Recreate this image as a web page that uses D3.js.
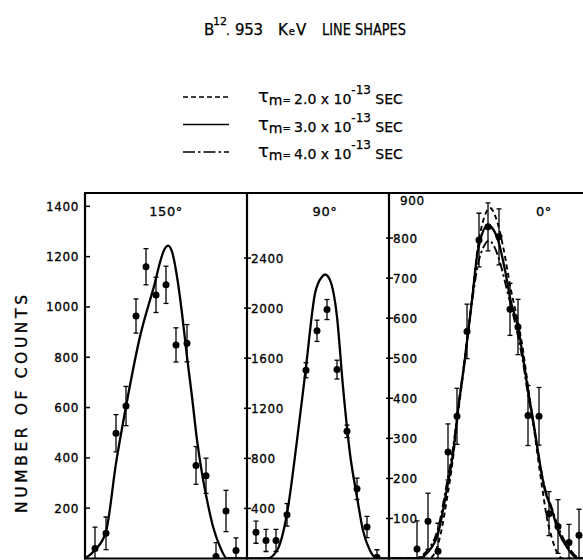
<!DOCTYPE html>
<html>
<head>
<meta charset="utf-8">
<script src="https://cdn.jsdelivr.net/npm/d3@7"></script>
<style>
  html, body { margin: 0; padding: 0; background: #fff; }
  svg { display: block; }
  text { font-family: "DejaVu Sans", "Liberation Sans", sans-serif; fill: #000; }
</style>
</head>
<body>
<svg id="chart" width="583" height="560"></svg>
<script>
// tick labels
const ticks150 = [200, 400, 600, 800, 1000, 1200, 1400];
const ticks90 = [400, 800, 1200, 1600, 2000, 2400];
const ticks0 = [100, 200, 300, 400, 500, 600, 700, 800, 900];

// 150 deg: measured points (channel, counts, error)
const ch150 = [1.0, 2.1, 3.1, 4.1, 5.1, 6.1, 7.1, 8.1, 9.1, 10.2, 11.1, 12.1, 13.1, 14.1, 15.1];
const counts150 = [40, 100, 498, 606, 964, 1160, 1048, 1088, 849, 856, 370, 329, 8, 189, 32];
const err150 = [85, 65, 74, 78, 68, 72, 70, 74, 68, 74, 75, 70, 55, 82, 50];
// 150 deg: fitted line shape
const curveCh150 = [0, 1.0, 2.1, 3.1, 4.1, 5.5, 6.8, 8.0, 8.3, 8.7, 9.2, 9.7, 10.2, 10.7, 11.2, 11.7, 12.2, 12.8, 13.5, 14.2, 16.3];
const curve150 = [0, 34, 107, 378, 604, 882, 1068, 1233, 1244, 1220, 1121, 975, 802, 643, 471, 339, 233, 127, 47, 0, 0];

// 90 deg
const ch90 = [0.9, 1.9, 2.9, 4.0, 5.9, 7.0, 8.0, 9.0, 10.0, 11.0, 12.0, 13.0];
const counts90 = [210, 144, 144, 349, 1504, 1819, 1989, 1509, 1016, 557, 251, 10];
const err90 = [88, 88, 88, 90, 60, 85, 80, 75, 50, 85, 85, 60];
const curveCh90 = [0, 2.0, 3.0, 4.0, 5.0, 5.9, 6.8, 7.5, 7.8, 8.3, 9.0, 9.6, 10.3, 11.0, 11.6, 12.3, 13.0, 14.2];
const curve90 = [0, 0, 64, 357, 944, 1531, 2117, 2251, 2269, 2224, 1931, 1371, 837, 491, 224, 64, 0, 0];

// 0 deg
const ch0 = [2.8, 3.9, 4.9, 5.9, 6.8, 7.8, 9.0, 9.9, 11.0, 12.1, 12.9, 13.9, 15.0, 16.0, 16.9, 18.0, 19.0];
const counts0 = [24, 93, 18, 266, 355, 567, 795, 828, 803, 622, 578, 357, 355, 112, 80, 40, 58];
const err0 = [70, 70, 70, 70, 70, 68, 67, 60, 70, 65, 69, 75, 72, 55, 67, 45, 65];
// 0 deg: three lifetimes
const curveCh0Short = [0, 4.0, 4.6, 5.2, 5.8, 6.4, 6.9, 7.5, 8.3, 8.9, 9.5, 10.1, 10.7, 11.4, 12.2, 12.9, 13.4, 13.9, 14.3, 15.3, 15.8, 16.3, 16.8, 17.4, 20.6];
const curve0Short = [0, 0, 15, 65, 150, 250, 360, 480, 650, 780, 850, 875, 850, 780, 670, 590, 520, 430, 360, 180, 100, 50, 15, 0, 0];
const curveCh0Mid = [0, 2.9, 3.9, 4.9, 5.8, 6.4, 6.9, 7.5, 8.3, 8.9, 9.9, 10.9, 11.6, 12.2, 12.9, 13.4, 13.9, 14.3, 15.6, 16.3, 16.9, 17.9, 18.9, 20.6];
const curve0Mid = [0, 0, 16, 62, 175, 262, 370, 480, 645, 770, 832, 795, 720, 640, 578, 503, 420, 362, 170, 120, 70, 24, 0, 0];
const curveCh0Long = [0, 2.5, 3.9, 4.9, 5.8, 6.4, 6.9, 7.5, 8.3, 8.9, 9.5, 10.0, 10.6, 11.2, 11.8, 12.5, 13.4, 13.9, 14.3, 15.6, 16.3, 16.9, 17.9, 19.2, 20.6];
const curve0Long = [0, 0, 22, 75, 190, 275, 375, 485, 640, 735, 780, 793, 775, 730, 670, 600, 490, 410, 355, 175, 125, 80, 30, 0, 0];

const legendTau = ['2.0', '3.0', '4.0'];
const legendStyles = ['dash', 'solid', 'dashdot'];

const svg = d3.select('#chart');
const baseY = 558.5, topY = 193;
const dashes = { solid: null, dash: '5,3.5', dashdot: '9,3,2.5,3' };
const legendDashes = { solid: null, dash: '5,3', dashdot: '12,3,2.5,3' };

const zip = (xs, ys) => xs.map((x, i) => [x, ys[i]]);

const panels = [
  { id: 'p150', title: '150°', titleX: 166, left: 85, right: 247, max: 1453, ticks: ticks150, side: 'out',
    pts: ch150.map((c, i) => ({ c, v: counts150[i], e: err150[i] })),
    curves: [{ d: zip(curveCh150, curve150), style: 'solid' }] },
  { id: 'p90', title: '90°', titleX: 325, left: 247, right: 389, max: 2920, ticks: ticks90, side: 'in',
    pts: ch90.map((c, i) => ({ c, v: counts90[i], e: err90[i] })),
    curves: [{ d: zip(curveCh90, curve90), style: 'solid' }] },
  { id: 'p0', title: '0°', titleX: 544, left: 389, right: 595, max: 912.5, ticks: ticks0, side: 'in',
    pts: ch0.map((c, i) => ({ c, v: counts0[i], e: err0[i] })),
    curves: [
      { d: zip(curveCh0Short, curve0Short), style: 'dash' },
      { d: zip(curveCh0Long, curve0Long), style: 'dashdot' },
      { d: zip(curveCh0Mid, curve0Mid), style: 'solid' }
    ] }
];

const defs = svg.append('defs');

panels.forEach(p => {
  const x = d3.scaleLinear().domain([0, (p.right - p.left) / 10]).range([p.left, p.right]);
  const y = d3.scaleLinear().domain([0, p.max]).range([baseY, topY]);

  defs.append('clipPath').attr('id', 'clip-' + p.id)
    .append('rect').attr('x', p.left).attr('y', topY).attr('width', p.right - p.left).attr('height', baseY - topY);

  const g = svg.append('g');
  const inner = g.append('g').attr('clip-path', `url(#clip-${p.id})`);

  const line = d3.line().x(d => x(d[0])).y(d => y(d[1])).curve(d3.curveMonotoneX);
  p.curves.forEach(cv => {
    inner.append('path')
      .attr('d', line(cv.d))
      .attr('fill', 'none')
      .attr('stroke', '#000')
      .attr('stroke-width', cv.style === 'solid' ? 2.3 : 1.9)
      .attr('stroke-dasharray', dashes[cv.style]);
  });

  // error bars
  const eb = inner.append('g').attr('stroke', '#000').attr('stroke-width', 1.3);
  p.pts.forEach(d => {
    const cx = x(d.c);
    const y1 = y(d.v + d.e), y2 = y(Math.max(0, d.v - d.e));
    eb.append('line').attr('x1', cx).attr('x2', cx).attr('y1', y1).attr('y2', y2);
    eb.append('line').attr('x1', cx - 2.5).attr('x2', cx + 2.5).attr('y1', y1).attr('y2', y1);
    eb.append('line').attr('x1', cx - 2.5).attr('x2', cx + 2.5).attr('y1', y2).attr('y2', y2);
  });
  inner.append('g').selectAll('circle').data(p.pts).join('circle')
    .attr('cx', d => x(d.c)).attr('cy', d => y(d.v)).attr('r', 3.5).attr('fill', '#000');

  // y ticks
  p.ticks.forEach(t => {
    const ty = y(t);
    const noDash = p.id === 'p0' && t === 900;
    if (p.side === 'out') {
      g.append('line').attr('x1', p.left).attr('x2', p.left + 5).attr('y1', ty).attr('y2', ty)
        .attr('stroke', '#000').attr('stroke-width', 1.5);
      g.append('text').attr('x', p.left - 6).attr('y', ty + 4.5).attr('text-anchor', 'end')
        .attr('font-size', 12).attr('letter-spacing', 0.6).attr('stroke', '#000').attr('stroke-width', 0.3)
        .text(t);
    } else {
      if (!noDash) {
        g.append('line').attr('x1', p.left - 3).attr('x2', p.left + 4).attr('y1', ty).attr('y2', ty)
          .attr('stroke', '#000').attr('stroke-width', 1.5);
      }
      g.append('text').attr('x', p.left + (noDash ? 11 : 4)).attr('y', noDash ? ty + 7 : ty + 4.5)
        .attr('font-size', 12).attr('letter-spacing', 0.6).attr('stroke', '#000').attr('stroke-width', 0.3)
        .text(t);
    }
  });

  g.append('text').attr('x', p.titleX).attr('y', 216).attr('text-anchor', 'middle')
    .attr('font-size', 13).attr('letter-spacing', 0.6).attr('stroke', '#000').attr('stroke-width', 0.3)
    .text(p.title);
});

// frame
const frame = svg.append('g').attr('stroke', '#000').attr('stroke-width', 2.2);
frame.append('line').attr('x1', 84).attr('x2', 583).attr('y1', topY).attr('y2', topY);
frame.append('line').attr('x1', 84).attr('x2', 583).attr('y1', baseY).attr('y2', baseY);
[85, 247, 389].forEach(px => {
  frame.append('line').attr('x1', px).attr('x2', px).attr('y1', topY).attr('y2', baseY + 1);
});

// y axis title
svg.append('text')
  .attr('transform', 'translate(27,404) rotate(-90)')
  .attr('text-anchor', 'middle')
  .attr('font-size', 15.5).attr('textLength', 218).attr('lengthAdjust', 'spacing')
  .attr('stroke', '#000').attr('stroke-width', 0.3)
  .text('NUMBER OF COUNTS');

// main title
const title = svg.append('g').attr('stroke', '#000').attr('stroke-width', 0.25);
title.append('text').attr('x', 204).attr('y', 35).attr('font-size', 15).text('B');
title.append('text').attr('x', 213).attr('y', 25).attr('font-size', 11).text('12');
title.append('text').attr('x', 226).attr('y', 35).attr('font-size', 12).text('.');
title.append('text').attr('x', 235).attr('y', 35).attr('font-size', 15).attr('textLength', 28).attr('lengthAdjust', 'spacing').text('953');
const kev = title.append('text').attr('x', 278).attr('y', 35).attr('font-size', 15).attr('letter-spacing', 1);
kev.append('tspan').text('K');
kev.append('tspan').attr('font-size', 10).text('e');
kev.append('tspan').text('V');
title.append('text').attr('x', 322).attr('y', 35).attr('font-size', 15)
  .attr('textLength', 84).attr('lengthAdjust', 'spacingAndGlyphs').text('LINE SHAPES');

// legend
legendTau.forEach((tau, i) => {
  const ly = 97 + i * 27.5;
  const st = legendStyles[i];
  svg.append('line').attr('x1', 183).attr('x2', 229).attr('y1', ly).attr('y2', ly)
    .attr('stroke', '#000').attr('stroke-width', st === 'solid' ? 1.6 : 1.4)
    .attr('stroke-dasharray', legendDashes[st]);
  const t = svg.append('text').attr('x', 258).attr('y', ly + 7).attr('font-size', 14)
    .attr('stroke', '#000').attr('stroke-width', 0.25);
  t.append('tspan').attr('font-size', 18).attr('dy', -2).text('τ');
  t.append('tspan').attr('dy', 3).text('m');
  t.append('tspan').attr('dy', -1).attr('font-size', 10).text('= ');
  t.append('tspan').text(tau + ' x 10');
  t.append('tspan').attr('font-size', 12).attr('dy', -10).text('-13');
  t.append('tspan').attr('font-size', 14).attr('dy', 10).text(' SEC');
});
</script>
</body>
</html>
